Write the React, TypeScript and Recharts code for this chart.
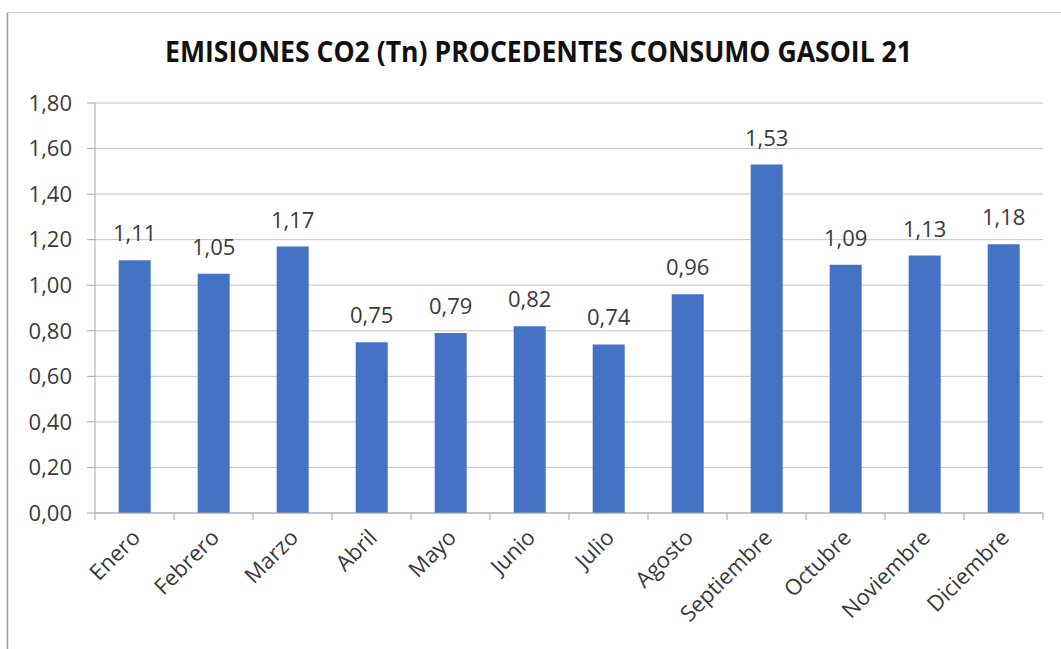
import React from "react";
import { BarChart, Bar, XAxis, YAxis, CartesianGrid, LabelList } from "recharts";

const months = [
  "Enero",
  "Febrero",
  "Marzo",
  "Abril",
  "Mayo",
  "Junio",
  "Julio",
  "Agosto",
  "Septiembre",
  "Octubre",
  "Noviembre",
  "Diciembre",
];
const emisiones = [1.11, 1.05, 1.17, 0.75, 0.79, 0.82, 0.74, 0.96, 1.53, 1.09, 1.13, 1.18];
const yTicks = [0, 0.2, 0.4, 0.6, 0.8, 1.0, 1.2, 1.4, 1.6, 1.8];
const title = "EMISIONES CO2 (Tn) PROCEDENTES CONSUMO GASOIL 21";

const chartData = months.map((m, i) => ({ mes: m, valor: emisiones[i] }));

const FONT = "'Open Sans', 'Noto Sans', sans-serif";
const TEXT = "#3a3a3a";
const AXIS = "#a6a6a6";

const fmt = (v: number) => v.toFixed(2).replace(".", ",");

function MonthTick(props: any) {
  const { x, y, payload, index } = props;
  const half = payload && payload.offset ? payload.offset : 39.5;
  const axisY = y - 12;
  const tx = x + 7;
  const ty = axisY + 26;
  return (
    <g>
      <line x1={x - half} y1={axisY} x2={x - half} y2={axisY + 7} stroke={AXIS} />
      {index === months.length - 1 && (
        <line x1={x + half} y1={axisY} x2={x + half} y2={axisY + 7} stroke={AXIS} />
      )}
      <text
        x={tx}
        y={ty}
        textAnchor="end"
        fill={TEXT}
        fontSize={22}
        fontFamily={FONT}
        transform={`rotate(-45, ${tx}, ${ty})`}
      >
        {payload.value}
      </text>
    </g>
  );
}

export default function App() {
  return (
    <div style={{ position: "absolute", left: 0, top: 0, width: 1061, height: 649, background: "#fff" }}>
      <BarChart
        width={1061}
        height={649}
        data={chartData}
        margin={{ top: 103, right: 18, left: 8, bottom: 0 }}
        barCategoryGap="30%"
      >
        <CartesianGrid vertical={false} stroke="#c4c4c4" />
        <XAxis
          dataKey="mes"
          interval={0}
          height={136}
          tickLine={false}
          tickSize={0}
          tickMargin={12}
          stroke={AXIS}
          tick={<MonthTick />}
        />
        <YAxis
          width={87}
          domain={[0, 1.8]}
          ticks={yTicks}
          tickSize={8}
          tickMargin={15}
          stroke={AXIS}
          tickFormatter={fmt}
          tick={{ fill: TEXT, fontSize: 22, fontFamily: FONT }}
        />
        <Bar dataKey="valor" fill="#4472C4" isAnimationActive={false}>
          <LabelList
            dataKey="valor"
            position="top"
            offset={19}
            formatter={(v: any) => fmt(Number(v))}
            fill={TEXT}
            fontSize={22}
            fontFamily={FONT}
          />
        </Bar>
      </BarChart>
      <svg
        width={1061}
        height={649}
        style={{ position: "absolute", left: 0, top: 0, pointerEvents: "none" }}
      >
        <line x1={7.5} y1={12} x2={7.5} y2={649} stroke="#9a9a9a" strokeWidth={1.5} />
        <line x1={7} y1={12.5} x2={1061} y2={12.5} stroke="#cfcfcf" />
        <text
          x={165}
          y={62}
          textLength={747}
          lengthAdjust="spacingAndGlyphs"
          fontSize={29}
          fontWeight="bold"
          fontFamily={FONT}
          fill="#111"
        >
          {title}
        </text>
      </svg>
    </div>
  );
}
